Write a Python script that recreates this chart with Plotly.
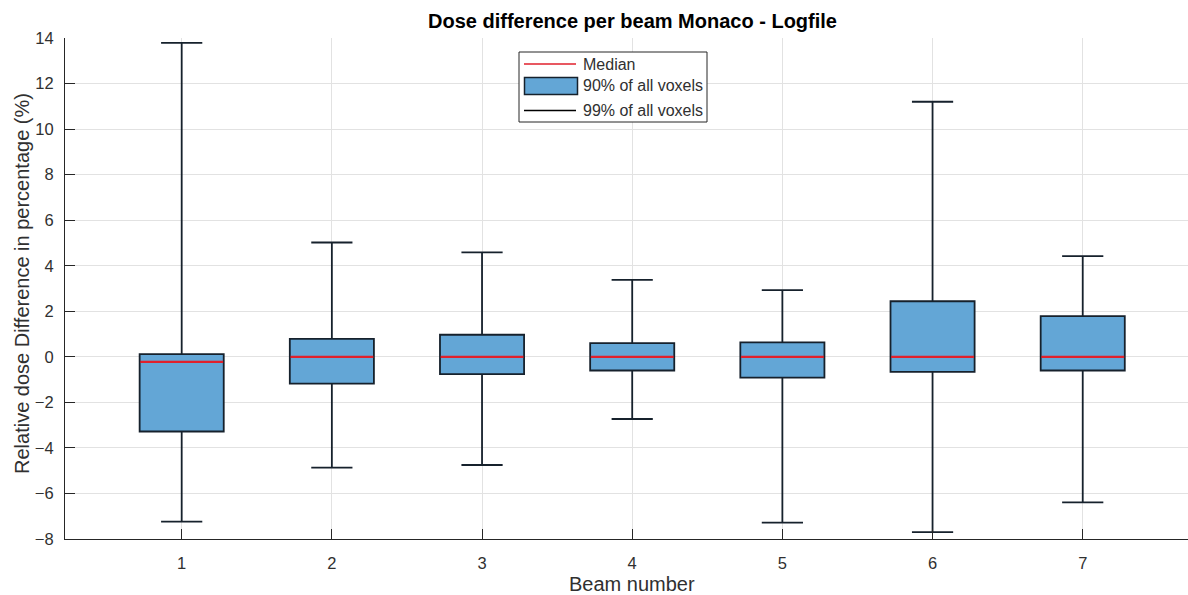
import plotly.graph_objects as go

# Per-beam relative dose difference statistics (%)
beams = [1, 2, 3, 4, 5, 6, 7]
p99_low = [-7.24, -4.87, -4.75, -2.73, -7.28, -7.70, -6.39]
p90_low = [-3.28, -1.18, -0.76, -0.60, -0.91, -0.66, -0.60]
medians = [-0.22, 0.0, 0.0, 0.0, 0.0, 0.0, 0.0]
p90_high = [0.12, 0.79, 0.97, 0.60, 0.63, 2.44, 1.79]
p99_high = [13.79, 5.02, 4.59, 3.38, 2.93, 11.20, 4.42]

legend_labels = ["Median", "90% of all voxels", "99% of all voxels"]
y_ticks = list(range(-8, 15, 2))

BOX_W = 0.56
HALF = BOX_W / 2
FILL = "#63a6d6"
EDGE = "#16212c"
RED = "#e0202c"
AX = "#262626"
TXT = "#303030"
FONT = "Liberation Sans, Arial, sans-serif"

W, H = 1188, 595
ML, MR, MT, MB = 65, 0, 38, 56

fig = go.Figure()

fig.add_trace(go.Box(
    x=beams,
    q1=p90_low,
    median=medians,
    q3=p90_high,
    lowerfence=p99_low,
    upperfence=p99_high,
    width=BOX_W,
    whiskerwidth=0.49,
    fillcolor=FILL,
    line=dict(color=EDGE, width=1.8),
    boxpoints=False,
    hoverinfo="skip",
    showlegend=False,
))

# red median bars across each box
mx, my = [], []
for b, m in zip(beams, medians):
    mx += [b - HALF + 0.004, b + HALF - 0.004, None]
    my += [m, m, None]
fig.add_trace(go.Scatter(
    x=mx, y=my, mode="lines",
    line=dict(color=RED, width=2.2),
    hoverinfo="skip", showlegend=False,
))

pw = W - ML - MR
ph = H - MT - MB


def px(x):
    return (x - ML) / pw


def py(y):
    return (H - MB - y) / ph


shapes = []
annotations = []

# legend frame
lx0, lx1, ly0, ly1 = 519, 707, 52, 122
shapes.append(dict(type="rect", xref="paper", yref="paper",
                   x0=px(lx0), x1=px(lx1), y0=py(ly1), y1=py(ly0),
                   line=dict(color=AX, width=1), fillcolor="white", layer="above"))
# median sample
shapes.append(dict(type="line", xref="paper", yref="paper",
                   x0=px(524), x1=px(576), y0=py(64), y1=py(64),
                   line=dict(color=RED, width=1.5), layer="above"))
# box sample
shapes.append(dict(type="rect", xref="paper", yref="paper",
                   x0=px(524.5), x1=px(577.5), y0=py(94.5), y1=py(77.5),
                   line=dict(color=EDGE, width=1.5), fillcolor=FILL, layer="above"))
# whisker sample
shapes.append(dict(type="line", xref="paper", yref="paper",
                   x0=px(524), x1=px(576), y0=py(110.5), y1=py(110.5),
                   line=dict(color="black", width=1.3), layer="above"))
for lab, yy in zip(legend_labels, [64, 86, 110.5]):
    annotations.append(dict(text=lab, xref="paper", yref="paper",
                            x=px(581), y=py(yy), xanchor="left", yanchor="middle",
                            showarrow=False,
                            font=dict(family=FONT, size=16, color=TXT)))

# title centred on the full axes width
annotations.append(dict(text="<b>Dose difference per beam Monaco - Logfile</b>",
                        xref="paper", yref="paper", x=px(632), y=py(21),
                        xanchor="center", yanchor="middle", showarrow=False,
                        font=dict(family=FONT, size=20, color="black")))
annotations.append(dict(text="Beam number", xref="paper", yref="paper",
                        x=px(632), y=py(584), xanchor="center", yanchor="middle",
                        showarrow=False, font=dict(family=FONT, size=20, color=TXT)))
annotations.append(dict(text="Relative dose Difference in percentage (%)",
                        xref="paper", yref="paper", x=px(22), y=py(284),
                        xanchor="center", yanchor="middle", textangle=-90,
                        showarrow=False, font=dict(family=FONT, size=20, color=TXT)))

fig.update_layout(
    width=W, height=H,
    margin=dict(l=ML, r=MR, t=MT, b=MB, pad=0),
    paper_bgcolor="white", plot_bgcolor="white",
    font=dict(family=FONT, size=16.5, color=TXT),
    shapes=shapes, annotations=annotations,
    showlegend=False,
)
fig.update_xaxes(
    range=[0.223, 7.701], tickvals=beams, ticktext=[str(b) for b in beams],
    showgrid=True, gridcolor="#e2e2e2", gridwidth=1,
    showline=True, linecolor=AX, linewidth=1.2,
    ticks="inside", ticklen=10, tickcolor=AX, tickwidth=1.2,
    ticklabelstandoff=9, zeroline=False,
    tickfont=dict(family=FONT, size=16.5, color=TXT),
)
fig.update_yaxes(
    range=[-8, 14], tickvals=y_ticks,
    showgrid=True, gridcolor="#e2e2e2", gridwidth=1,
    showline=True, linecolor=AX, linewidth=1.2,
    ticks="inside", ticklen=10, tickcolor=AX, tickwidth=1.2,
    ticklabelstandoff=7, zeroline=False,
    tickfont=dict(family=FONT, size=16.5, color=TXT),
)

fig.write_html("out.html")
